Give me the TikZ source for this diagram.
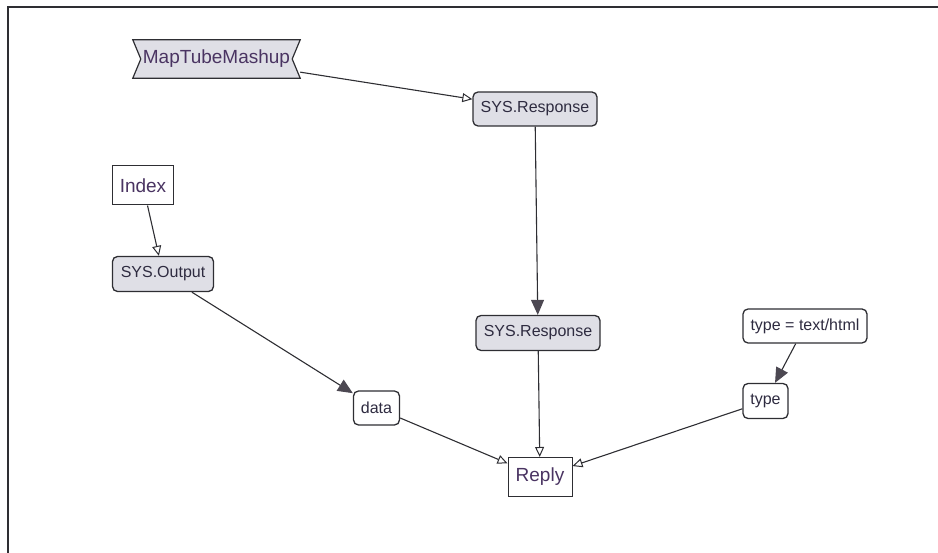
\documentclass[tikz,border=0pt]{standalone}
\usepackage{fontspec}
\setmainfont{Liberation Sans}
\usetikzlibrary{arrows.meta,backgrounds}

\definecolor{edgecol}{HTML}{2E2E33}
\definecolor{boxfill}{HTML}{DFDFE6}
\definecolor{txtcol}{HTML}{2E2B40}
\definecolor{txtbig}{HTML}{4A3462}
\definecolor{tipdark}{HTML}{4C4852}

\tikzset{
  x=1pt, y=-1pt,
  base/.style={inner sep=0pt, text=txtcol, font=\fontsize{16}{18}\selectfont},
  sysbox/.style={base, draw=edgecol, line width=1.3pt, rounded corners=5pt, fill=boxfill},
  valbox/.style={base, draw=edgecol, line width=1.3pt, rounded corners=5pt, fill=white},
  plainbox/.style={base, draw=edgecol, line width=1pt, fill=white, text=txtbig,
                   font=\fontsize{19}{21}\selectfont},
  bannerbox/.style={base, text=txtbig, font=\fontsize{19}{21}\selectfont},
  link/.style={draw=edgecol, line width=1.1pt},
  openlink/.style={link, -{Triangle[open, length=10pt, width=9pt, fill=white, line width=1pt]}},
  solidlink/.style={link, -{Triangle[length=15pt, width=13pt, color=tipdark]}},
}

\begin{document}
\begin{tikzpicture}
  \useasboundingbox (0,0) rectangle (938,553);

  % frame of the canvas
  \draw[edgecol, line width=1.2pt] (938,7) -- (8,7) -- (8,553);

  % nodes
  \node[bannerbox, minimum width=167pt, minimum height=38pt] (map) at (216.5,59) {MapTubeMashup};
  \begin{scope}[on background layer]
    \draw[draw=edgecol, line width=1.2pt, fill=boxfill]
      (map.north west) -- (map.north east) -- ([xshift=-8pt]map.east)
      -- (map.south east) -- (map.south west) -- ([xshift=8pt]map.west) -- cycle;
  \end{scope}

  \node[sysbox, minimum width=124pt, minimum height=34pt] (resp1) at (535,109) {SYS.Response};
  \node[plainbox, minimum width=61pt, minimum height=39pt] (index) at (143,185.5) {Index};
  \node[sysbox, minimum width=101pt, minimum height=35pt] (out) at (163,274) {SYS.Output};
  \node[sysbox, minimum width=124pt, minimum height=35pt] (resp2) at (538,333) {SYS.Response};
  \node[valbox, minimum width=46pt, minimum height=34pt] (data) at (376.5,408) {data};
  \node[plainbox, minimum width=64pt, minimum height=39pt] (reply) at (540,477) {Reply};
  \node[valbox, minimum width=124pt, minimum height=34pt] (tth) at (805,326) {type = text/html};
  \node[valbox, minimum width=45pt, minimum height=35pt] (type) at (765.5,401) {type};

  % connectors
  \draw[openlink] (map) -- (resp1);
  \draw[openlink] (index) -- (out);
  \draw[solidlink] (resp1) -- (resp2);
  \draw[solidlink] (out) -- (data);
  \draw[solidlink] (tth) -- (type);
  \draw[openlink] (data) -- (reply);
  \draw[openlink] (resp2) -- (reply);
  \draw[openlink] (type) -- (reply);
\end{tikzpicture}
\end{document}
